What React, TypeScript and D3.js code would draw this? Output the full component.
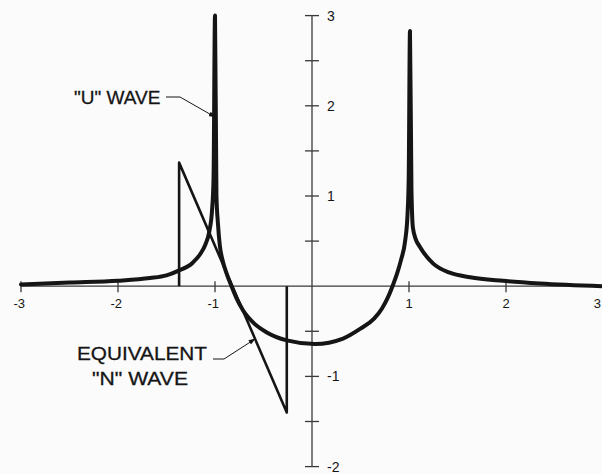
import React from "react";
import * as d3 from "d3";

// "U" wave
const uX = [
  -3.0, -2.5, -2.0, -1.67, -1.5, -1.38, -1.23, -1.15, -1.1, -1.06, -1.03, -1.015, -1.0,
  -0.985, -0.97, -0.95, -0.92, -0.88, -0.83, -0.78, -0.71, -0.6, -0.47, -0.26, 0.03, 0.32, 0.5,
  0.64, 0.72, 0.78, 0.83, 0.88, 0.92, 0.96, 0.985, 0.997, 1.01, 1.025, 1.04, 1.07, 1.11, 1.25, 1.42, 1.63,
  1.97, 2.35, 3.0,
];
const uY = [
  0.02, 0.04, 0.06, 0.09, 0.12, 0.17, 0.26, 0.36, 0.46, 0.6, 0.85, 1.2, 3.0,
  1.0, 0.7, 0.45, 0.28, 0.14, 0.0, -0.13, -0.27, -0.41, -0.51, -0.6, -0.64, -0.58, -0.47,
  -0.36, -0.25, -0.13, 0.0, 0.15, 0.3, 0.5, 0.8, 1.2, 2.83, 1.1, 0.65, 0.52, 0.44, 0.25, 0.15, 0.1,
  0.06, 0.03, 0.0,
];

// Equivalent "N" wave
const nX = [-1.37, -1.37, -0.26, -0.26];
const nY = [0.0, 1.37, -1.4, 0.0];

const xTickValues = [-3, -2, -1, 1, 2, 3];
const xTickLabels = ["-3", "-2", "-1", "1", "2", "3"];
const yTickValues = [-2, -1.5, -1, -0.5, 0.5, 1, 1.5, 2, 2.5, 3];
const yLabelValues = [-2, -1, 1, 2, 3];
const yLabelTexts = ["-2", "-1", "1", "2", "3"];

const W = 602;
const H = 474;

export default function App() {
  const x = d3.scaleLinear().domain([-3, 3]).range([21, 603]);
  const y = d3.scaleLinear().domain([-2, 3]).range([466.6, 15.6]);

  const uData = uX.map((v, i) => [v, uY[i]] as [number, number]);
  const nData = nX.map((v, i) => [v, nY[i]] as [number, number]);

  const uLine = d3
    .line<[number, number]>()
    .x((d) => x(d[0]))
    .y((d) => y(d[1]))
    .curve(d3.curveMonotoneX)(uData) as string;
  const nLine = d3
    .line<[number, number]>()
    .x((d) => x(d[0]))
    .y((d) => y(d[1]))(nData) as string;

  const ink = "#151515";
  const axisInk = "#3a3a3a";
  const font = "'Liberation Sans', Arial, sans-serif";

  const x0 = x(0);
  const y0 = y(0);

  return (
    <div style={{ position: "absolute", left: 0, top: 0 }}>
      <svg width={W} height={H} viewBox={`0 0 ${W} ${H}`} style={{ display: "block" }}>
        <defs>
          <marker id="arr" viewBox="0 0 10 10" refX="9" refY="5" markerWidth="7" markerHeight="7" orient="auto-start-reverse" markerUnits="userSpaceOnUse">
            <path d="M0,1.5 L10,5 L0,8.5 z" fill={ink} />
          </marker>
        </defs>
        <rect x={0} y={0} width={W} height={H} fill="#fbfbfb" />

        {/* axes */}
        <line x1={x(-3)} x2={W} y1={y0} y2={y0} stroke={axisInk} strokeWidth={1.3} />
        <line x1={x0} x2={x0} y1={y(3)} y2={y(-2)} stroke={axisInk} strokeWidth={1.3} />

        {/* x ticks */}
        {xTickValues.map((v) => (
          <line key={"xt" + v} x1={x(v)} x2={x(v)} y1={y0 - 5} y2={y0 + 6} stroke={axisInk} strokeWidth={1.3} />
        ))}
        {xTickValues.map((v, i) => (
          <text key={"xl" + v} x={v === 3 ? 601 : x(v) + (v < 0 ? 4 : 0)} y={y0 + 22} textAnchor={v < 0 || v === 3 ? "end" : "middle"} fontFamily={font} fontSize={13} fill={ink}>
            {xTickLabels[i]}
          </text>
        ))}

        {/* y ticks */}
        {yTickValues.map((v) => (
          <line key={"yt" + v} x1={x0 - 7} x2={x0 + 7} y1={y(v)} y2={y(v)} stroke={axisInk} strokeWidth={1.3} />
        ))}
        {yLabelValues.map((v, i) => (
          <text key={"yl" + v} x={x0 + 15} y={y(v) + 5} textAnchor="start" fontFamily={font} fontSize={14} fill={ink}>
            {yLabelTexts[i]}
          </text>
        ))}

        {/* N wave */}
        <path d={nLine} fill="none" stroke={ink} strokeWidth={2.6} strokeLinejoin="round" />
        {/* U wave */}
        <path d={uLine} fill="none" stroke={ink} strokeWidth={4} strokeLinejoin="round" strokeLinecap="round" />

        {/* annotations */}
        <text x={74} y={104} fontFamily={font} fontSize={19} fill={ink} stroke={ink} strokeWidth={0.3}>
          "U" WAVE
        </text>
        <polyline points="166,97 180,97 215,117" fill="none" stroke={ink} strokeWidth={1} markerEnd="url(#arr)" />

        <text x={77} y={360} fontFamily={font} fontSize={19} fill={ink} stroke={ink} strokeWidth={0.3} textLength={130} lengthAdjust="spacingAndGlyphs">
          EQUIVALENT
        </text>
        <text x={92} y={385} fontFamily={font} fontSize={19} fill={ink} stroke={ink} strokeWidth={0.3} textLength={96} lengthAdjust="spacingAndGlyphs">
          "N" WAVE
        </text>
        <polyline points="213,359 224,359 255,339" fill="none" stroke={ink} strokeWidth={1} markerEnd="url(#arr)" />
      </svg>
    </div>
  );
}
